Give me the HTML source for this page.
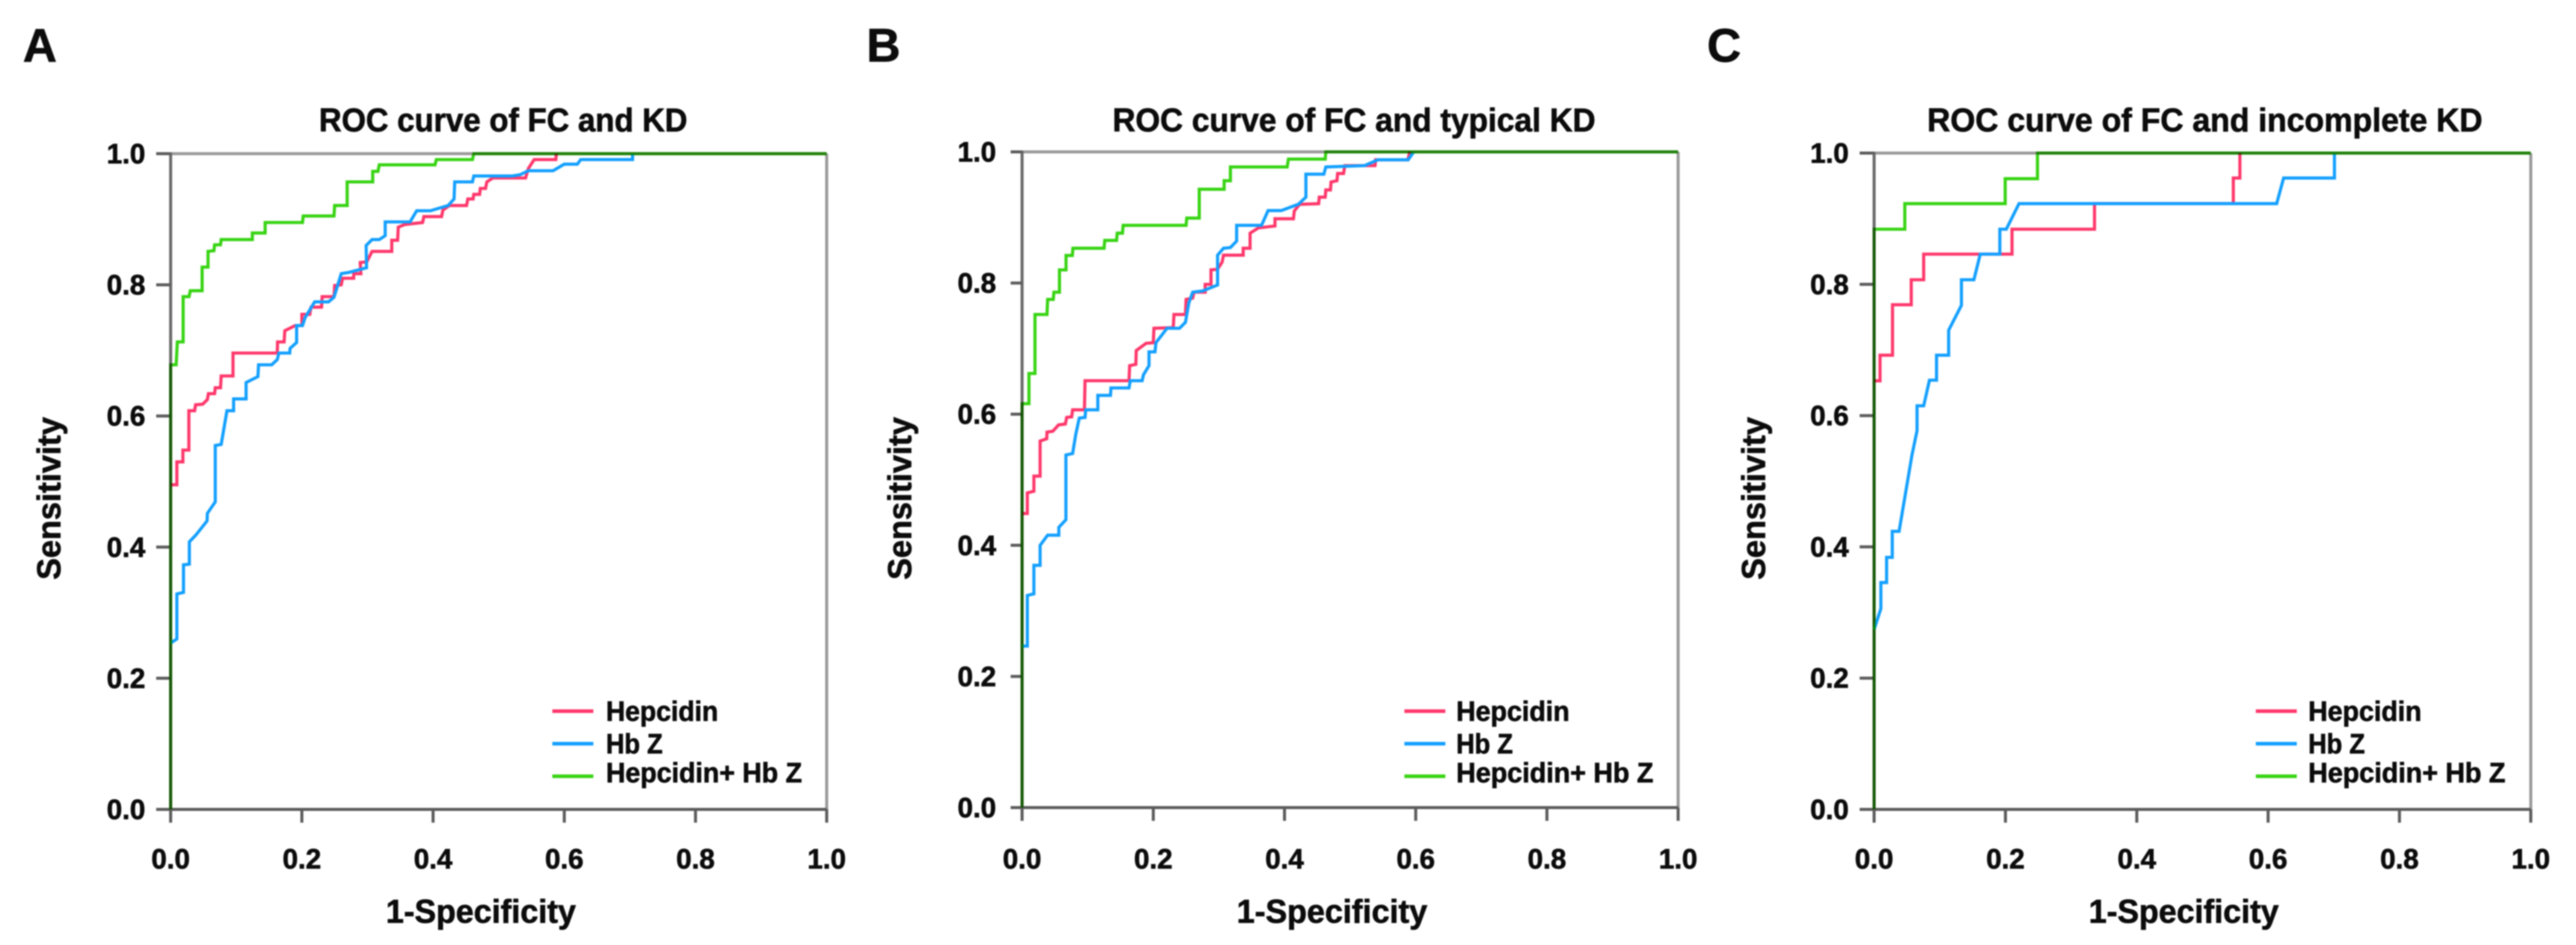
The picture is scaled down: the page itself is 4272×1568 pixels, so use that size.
<!DOCTYPE html>
<html lang="en">
<head>
<meta charset="utf-8">
<title>ROC curves of FC and KD</title>
<style>
html,body{margin:0;padding:0;background:#fff;}
body{width:4272px;height:1568px;overflow:hidden;}
svg{display:block;filter:blur(1.1px);}
text{font-family:"Liberation Sans",sans-serif;font-weight:bold;fill:#0c0c0c;stroke:#0c0c0c;stroke-width:1px;}
</style>
</head>
<body>
<svg id="figure" xmlns="http://www.w3.org/2000/svg" width="4272" height="1568" viewBox="0 0 4272 1568"></svg>
<script>
const tickValues = [0, 0.2, 0.4, 0.6, 0.8, 1];
const tickLabels = ['0.0', '0.2', '0.4', '0.6', '0.8', '1.0'];
const seriesNames = ['Hepcidin', 'Hb Z', 'Hepcidin+ Hb Z'];

const aHepcidinX = [0,.0095,.0095,.0187,.0187,.0278,.0278,.0366,.038,.049,.056,.0575,.067,.068,.076,.077,.095,.095,.1625,.163,.173,.174,.190,.200,.200,.212,.214,.230,.231,.249,.25,.26,.262,.279,.279,.290,.289,.299,.307,.337,.337,.346,.347,.357,.384,.386,.413,.415,.425,.451,.453,.461,.462,.471,.472,.48,.482,.491,.541,.545,.554,.587,.588];
const aHepcidinY = [.495,.495,.530,.530,.548,.548,.608,.608,.617,.618,.625,.634,.634,.643,.643,.661,.661,.696,.696,.713,.713,.730,.738,.738,.755,.755,.766,.766,.782,.782,.799,.80,.810,.810,.817,.817,.834,.835,.851,.851,.868,.868,.888,.892,.895,.904,.904,.914,.921,.921,.931,.931,.938,.938,.947,.947,.957,.963,.963,.977,.991,.991,1];
const aHbZX = [0,.0095,.0095,.0196,.0196,.0285,.0285,.0386,.0555,.056,.068,.068,.077,.0858,.096,.096,.115,.115,.133,.134,.154,.1625,.165,.1815,.182,.192,.192,.201,.205,.2195,.2406,.249,.26,.272,.2986,.298,.307,.318,.327,.327,.365,.375,.396,.423,.432,.433,.460,.462,.521,.533,.545,.583,.6,.62,.625,.704,.704];
const aHbZY = [.2536,.26,.3286,.331,.373,.374,.408,.4186,.44,.4515,.469,.555,.5566,.608,.608,.626,.626,.651,.660,.678,.678,.686,.696,.696,.703,.712,.738,.738,.750,.774,.774,.781,.817,.819,.826,.860,.869,.869,.875,.896,.896,.913,.913,.921,.931,.957,.957,.966,.966,.968,.974,.974,.984,.984,.991,.991,1];
const aCombinedX = [0,0,.0084,.0102,.019,.019,.028,.030,.048,.048,.057,.057,.066,.067,.076,.077,.1245,.1245,.144,.144,.201,.202,.249,.25,.269,.269,.308,.308,.316,.318,.403,.405,.460,.462,1];
const aCombinedY = [0,.678,.678,.713,.713,.782,.782,.791,.791,.827,.827,.851,.852,.861,.861,.869,.869,.879,.879,.895,.895,.905,.905,.921,.921,.957,.957,.973,.973,.983,.983,.991,.991,1,1];

const bHepcidinX = [0,.008,.008,.018,.018,.0275,.0275,.0376,.038,.047,.0556,.066,.068,.0756,.077,.095,.096,.163,.164,.1734,.174,.189,.2,.201,.2304,.2315,.249,.25,.26,.262,.279,.279,.288,.288,.298,.305,.307,.337,.337,.3475,.3475,.36,.3855,.3855,.4136,.415,.423,.452,.453,.462,.463,.47,.471,.48,.481,.49,.492,.538,.539,.588,.591];
const bHepcidinY = [.4485,.4485,.48,.4825,.5055,.5055,.559,.5625,.5726,.574,.5836,.585,.595,.596,.6066,.6066,.651,.651,.674,.676,.697,.708,.709,.731,.732,.752,.752,.775,.777,.786,.786,.798,.798,.82,.821,.832,.8425,.8425,.853,.853,.876,.884,.887,.898,.898,.91,.92,.921,.931,.931,.942,.942,.954,.956,.967,.967,.979,.979,.988,.988,1];
const bHbZX = [0,.008,.008,.018,.018,.0275,.0275,.039,.056,.056,.0668,.0668,.077,.082,.0872,.096,.097,.1154,.1154,.1347,.1355,.163,.165,.183,.185,.1935,.1935,.2026,.204,.221,.24,.249,.254,.26,.2754,.298,.298,.307,.3176,.327,.327,.365,.375,.395,.421,.4326,.4326,.46,.463,.522,.5426,.5885,.597];
const bHbZY = [.2463,.2463,.3235,.326,.3695,.3695,.40,.4154,.4154,.4274,.439,.5377,.54,.57,.594,.595,.6066,.6066,.6287,.6287,.64,.64,.651,.651,.66,.674,.695,.695,.709,.731,.731,.74,.769,.786,.788,.797,.8425,.853,.854,.864,.888,.888,.9105,.9105,.92,.931,.966,.966,.977,.979,.988,.988,1];
const bCombinedX = [0,0,.0105,.0105,.0197,.0197,.038,.039,.0475,.0485,.057,.057,.067,.067,.0767,.0775,.125,.126,.144,.145,.153,.154,.25,.251,.27,.27,.308,.308,.3176,.3176,.404,.406,.462,.463,1];
const bCombinedY = [0,.616,.616,.662,.662,.752,.752,.775,.775,.786,.786,.820,.820,.842,.842,.853,.853,.865,.865,.876,.876,.888,.888,.899,.899,.943,.943,.956,.956,.977,.977,.989,.989,1,1];

const cHepcidinX = [0,.009,.009,.028,.028,.0566,.0566,.0755,.0755,.21,.21,.3356,.3356,.547,.547,.557,.557];
const cHepcidinY = [.653,.653,.692,.692,.769,.769,.807,.807,.846,.846,.884,.884,.923,.923,.962,.962,1];
const cHbZX = [0,.0103,.0103,.019,.019,.0276,.0276,.038,.0577,.0654,.0654,.0755,.0843,.095,.095,.1135,.1135,.133,.133,.152,.1616,.1915,.1915,.2013,.2207,.613,.6236,.701,.701];
const cHbZY = [.274,.306,.3456,.3456,.384,.384,.4237,.4237,.54,.577,.615,.615,.654,.654,.692,.692,.73,.768,.807,.807,.846,.846,.884,.884,.923,.923,.962,.962,1];
const cCombinedX = [0,0,.0467,.0467,.1996,.1996,.2488,.2488,1];
const cCombinedY = [0,.884,.884,.923,.923,.961,.961,1,1];

const SVG_NS = 'http://www.w3.org/2000/svg';
const figure = document.getElementById('figure');

function addLine(parent, x1, y1, x2, y2, color, width, name) {
  const el = document.createElementNS(SVG_NS, 'line');
  el.setAttribute('x1', x1);
  el.setAttribute('y1', y1);
  el.setAttribute('x2', x2);
  el.setAttribute('y2', y2);
  el.setAttribute('stroke', color);
  el.setAttribute('stroke-width', width);
  
  
  parent.appendChild(el);
  return el;
}

function addText(parent, content, x, y, size, anchor, fitWidth, name, rotate) {
  const el = document.createElementNS(SVG_NS, 'text');
  el.setAttribute('x', x);
  el.setAttribute('y', y);
  el.setAttribute('font-size', size);
  el.setAttribute('text-anchor', anchor);
  if (fitWidth) {
    el.setAttribute('textLength', fitWidth);
    el.setAttribute('lengthAdjust', 'spacingAndGlyphs');
  }
  if (rotate) {
    el.setAttribute('transform', 'rotate(-90 ' + x + ' ' + y + ')');
  }
  
  
  el.textContent = content;
  parent.appendChild(el);
  return el;
}

function drawPanel(cfg) {
  const group = document.createElementNS(SVG_NS, 'g');
  
  
  figure.appendChild(group);

  const xScale = function (v) { return cfg.left + v * cfg.size; };
  const yScale = function (v) { return cfg.bottom - v * cfg.size; };

  addText(group, cfg.letter, cfg.letterX, 102, 78, 'start', 0, 'panel-letter');
  addText(group, cfg.title, cfg.titleX, 218, 55, 'start', cfg.titleW, 'chart-title');

  addLine(group, xScale(0), yScale(1), xScale(1), yScale(1), '#9a9a9a', 5, 'plot-top-border');
  addLine(group, xScale(1), yScale(1), xScale(1), yScale(0), '#9a9a9a', 5, 'plot-right-border');
  addLine(group, xScale(0), yScale(1) - 2, xScale(0), yScale(0) + 2, '#6a6a6a', 5, 'y-axis-line');
  addLine(group, xScale(0), yScale(0), xScale(1), yScale(0), '#5c5c5c', 5, 'x-axis-line');

  tickValues.forEach(function (v, i) {
    addLine(group, xScale(0) - cfg.tickLen, yScale(v), xScale(0), yScale(v), '#5c5c5c', 5, 'y-tick');
    addLine(group, xScale(v), yScale(0), xScale(v), yScale(0) + 22, '#5c5c5c', 5, 'x-tick');
    addText(group, tickLabels[i], cfg.labelEnd, yScale(v) + 16, 46, 'end', 0, 'y-tick-label');
    addText(group, tickLabels[i], xScale(v), 1441, 46, 'middle', 0, 'x-tick-label');
  });

  addText(group, '1-Specificity', cfg.xTitleX, 1531, 55, 'start', cfg.xTitleW, 'x-axis-title');
  addText(group, 'Sensitivity', cfg.yTitleX, 962, 55, 'start', 270, 'y-axis-title', true);

  cfg.series.forEach(function (s) {
    let d = '';
    s.x.forEach(function (xv, i) {
      d += (i === 0 ? 'M' : 'L') + xScale(xv).toFixed(1) + ' ' + yScale(s.y[i]).toFixed(1) + ' ';
    });
    const path = document.createElementNS(SVG_NS, 'path');
    path.setAttribute('d', d);
    path.setAttribute('fill', 'none');
    path.setAttribute('stroke', s.color);
    path.setAttribute('stroke-width', 5.2);
    path.setAttribute('stroke-linejoin', 'miter');
    if (s.multiply) {
      path.style.mixBlendMode = 'multiply';
    }
    
    
    group.appendChild(path);
  });

  const legendY = [1180, 1234, 1288];
  const legendBase = [1196, 1250, 1298];
  const legendW = [cfg.legendW0, 94, cfg.legendW2];
  seriesNames.forEach(function (label, i) {
    const entry = document.createElementNS(SVG_NS, 'g');
    
    
    group.appendChild(entry);
    addLine(entry, cfg.legendLineX, legendY[i], cfg.legendLineX + 68, legendY[i], cfg.series[i].color, 6, 'legend-swatch');
    addText(entry, label, cfg.legendTextX, legendBase[i], 46, 'start', legendW[i], 'legend-label');
  });
}

const RED = '#ff386c';
const BLUE = '#14a0ff';
const GREEN = '#38d414';

drawPanel({
  id: 'a', letter: 'A', letterX: 38,
  title: 'ROC curve of FC and KD', titleX: 529, titleW: 611,
  left: 283, bottom: 1343, size: 1088, tickLen: 24, labelEnd: 241,
  xTitleX: 640, xTitleW: 315, yTitleX: 100,
  legendLineX: 916, legendTextX: 1005, legendW0: 186, legendW2: 325,
  series: [
    { name: 'hepcidin-curve', color: RED, x: aHepcidinX, y: aHepcidinY },
    { name: 'hb-z-curve', color: BLUE, x: aHbZX, y: aHbZY },
    { name: 'hepcidin-hb-z-curve', color: GREEN, multiply: true, x: aCombinedX, y: aCombinedY }
  ]
});

drawPanel({
  id: 'b', letter: 'B', letterX: 1437,
  title: 'ROC curve of FC and typical KD', titleX: 1845, titleW: 801,
  left: 1695, bottom: 1340, size: 1088, tickLen: 19, labelEnd: 1652,
  xTitleX: 2051, xTitleW: 316, yTitleX: 1511,
  legendLineX: 2329, legendTextX: 2415, legendW0: 188, legendW2: 327,
  series: [
    { name: 'hepcidin-curve', color: RED, x: bHepcidinX, y: bHepcidinY },
    { name: 'hb-z-curve', color: BLUE, x: bHbZX, y: bHbZY },
    { name: 'hepcidin-hb-z-curve', color: GREEN, multiply: true, x: bCombinedX, y: bCombinedY }
  ]
});

drawPanel({
  id: 'c', letter: 'C', letterX: 2831,
  title: 'ROC curve of FC and incomplete KD', titleX: 3196, titleW: 921,
  left: 3108, bottom: 1343, size: 1089, tickLen: 24, labelEnd: 3066,
  xTitleX: 3464, xTitleW: 315, yTitleX: 2927,
  legendLineX: 3741, legendTextX: 3828, legendW0: 188, legendW2: 327,
  series: [
    { name: 'hepcidin-curve', color: RED, x: cHepcidinX, y: cHepcidinY },
    { name: 'hb-z-curve', color: BLUE, x: cHbZX, y: cHbZY },
    { name: 'hepcidin-hb-z-curve', color: GREEN, multiply: true, x: cCombinedX, y: cCombinedY }
  ]
});
</script>
</body>
</html>
